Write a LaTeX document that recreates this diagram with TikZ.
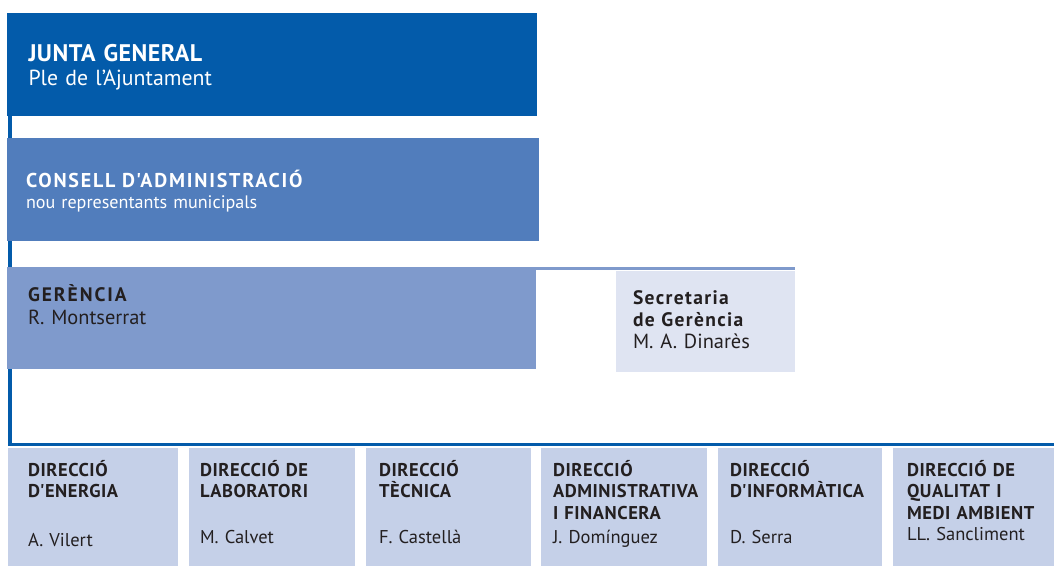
\documentclass[tikz,border=0pt]{standalone}
\usepackage{fontspec}
\newfontfamily\hf{PT Sans}
\newfontfamily\hfbig{PT Sans}[LetterSpace=2]
\newfontfamily\hfsp{PT Sans}[LetterSpace=9]
\newfontfamily\hfger{PT Sans}[LetterSpace=10]
\newfontfamily\hfsec{PT Sans}[LetterSpace=7]
\newfontfamily\hfsm{PT Sans}[LetterSpace=3]
\usetikzlibrary{backgrounds}
\definecolor{junta}{RGB}{3,91,170}
\definecolor{consell}{RGB}{81,125,188}
\definecolor{ger}{RGB}{127,154,204}
\definecolor{sec}{RGB}{223,228,242}
\definecolor{dir}{RGB}{197,208,232}
\definecolor{linec}{RGB}{3,91,170}
\definecolor{txt}{RGB}{35,31,32}
\begin{document}
\begin{tikzpicture}[x=1pt,y=-1pt,
  box/.style={rectangle,inner sep=0pt,outer sep=0pt,anchor=north west,draw=none},
  lbl/.style={anchor=base west,inner sep=0pt,outer sep=0pt,text width=320pt,align=left},
  wt/.style={lbl,text=white},
  dk/.style={lbl,text=txt},
  conn/.style={draw=linec,line width=3.5pt},
  secl/.style={draw=ger,line width=3pt},
  bigb/.style={font=\hfbig\bfseries\fontsize{24}{25}\selectfont},
  bigr/.style={font=\hf\fontsize{21.8}{24}\selectfont},
  midb/.style={font=\hfsp\bfseries\fontsize{20}{22}\selectfont},
  midr/.style={font=\hf\fontsize{18.1}{21}\selectfont},
  gerb/.style={font=\hfger\bfseries\fontsize{19.5}{22}\selectfont},
  secb/.style={font=\hfsec\bfseries\fontsize{19.5}{22.5}\selectfont},
  namr/.style={font=\hf\fontsize{20.4}{22}\selectfont},
  smb/.style={font=\hfsm\bfseries\fontsize{18.5}{21.5}\selectfont},
  smr/.style={font=\hf\fontsize{18.5}{22}\selectfont}
]
\useasboundingbox (0,0) rectangle (1054,566);

% boxes
\node[box,fill=junta,minimum width=530pt,minimum height=103pt] (junta) at (7,13) {};
\node[box,fill=consell,minimum width=532pt,minimum height=103pt] (consell) at (7,138) {};
\node[box,fill=ger,minimum width=529pt,minimum height=102pt] (ger) at (7,267) {};
\node[box,fill=sec,minimum width=179pt,minimum height=101pt] (sec) at (616,271) {};

\node[box,fill=dir,minimum width=170pt,minimum height=118pt] (d1) at (8,448) {};
\node[box,fill=dir,minimum width=166pt,minimum height=118pt] (d2) at (189,448) {};
\node[box,fill=dir,minimum width=165pt,minimum height=118pt] (d3) at (366,448) {};
\node[box,fill=dir,minimum width=166pt,minimum height=118pt] (d4) at (541,448) {};
\node[box,fill=dir,minimum width=164pt,minimum height=118pt] (d5) at (718,448) {};
\node[box,fill=dir,minimum width=161pt,minimum height=118pt] (d6) at (893,448) {};

% connectors
\coordinate (hend) at (1054,444.5);
\begin{scope}[on background layer]
\draw[conn] ([xshift=3pt]junta.south west) |- (hend);
\end{scope}
\draw[secl] ([yshift=-1.5pt]ger.north east) -- ([yshift=2.5pt]sec.north east);

% texts
\node[wt,bigb] (tj1) at (28.5,61.7) {JUNTA GENERAL};
\node[wt,bigr] (tj2) at (28.5,85.7) {Ple de l’Ajuntament};
\node[wt,midb] (tc1) at (26,187.7) {CONSELL D'ADMINISTRACIÓ};
\node[wt,midr] (tc2) at (26,208.3) {nou representants municipals};
\node[dk,gerb] (tg1) at (28,301.7) {GERÈNCIA};
\node[dk,namr] (tg2) at (28,324) {R. Montserrat};
\node[dk,secb] (ts1) at (633,304) {Secretaria\\de Gerència};
\node[dk,namr] (ts2) at (633,348) {M. A. Dinarès};

\node[dk,smb] (t1a) at (28,476) {DIRECCIÓ\\D'ENERGIA};
\node[dk,smr] (t1b) at (28,546) {A. Vilert};
\node[dk,smb] (t2a) at (200,476) {DIRECCIÓ DE\\LABORATORI};
\node[dk,smr] (t2b) at (200,543) {M. Calvet};
\node[dk,smb] (t3a) at (379,476) {DIRECCIÓ\\TÈCNICA};
\node[dk,smr] (t3b) at (379,543) {F. Castellà};
\node[dk,smb] (t4a) at (553,476) {DIRECCIÓ\\ADMINISTRATIVA\\I FINANCERA};
\node[dk,smr] (t4b) at (553,543) {J. Domínguez};
\node[dk,smb] (t5a) at (730,476) {DIRECCIÓ\\D'INFORMÀTICA};
\node[dk,smr] (t5b) at (730,543) {D. Serra};
\node[dk,smb] (t6a) at (907,476) {DIRECCIÓ DE\\QUALITAT I\\MEDI AMBIENT};
\node[dk,smr] (t6b) at (907,540) {LL. Sancliment};
\end{tikzpicture}
\end{document}
